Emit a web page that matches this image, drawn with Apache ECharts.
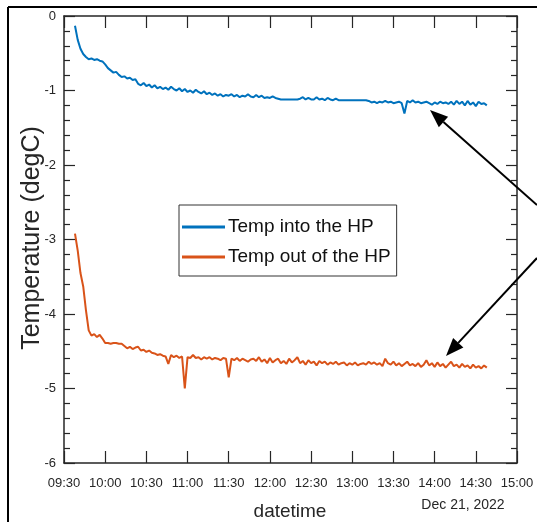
<!DOCTYPE html>
<html>
<head>
<meta charset="utf-8">
<script src="https://cdn.jsdelivr.net/npm/echarts@6/dist/echarts.min.js"></script>
<style>
html, body { margin: 0; padding: 0; background: #fff; }
#chart { width: 537px; height: 522px; }
</style>
</head>
<body>
<div id="chart"></div>
<script>
// time is in minutes after midnight (Dec 21, 2022), samples every 2 min from 09:38
const startMin = 578;
const stepMin = 2;

const tempIn = [
    -0.13, -0.32, -0.44, -0.51, -0.55, -0.58, -0.57, -0.59, -0.58, -0.60,
    -0.61, -0.65, -0.70, -0.73, -0.76, -0.75, -0.79, -0.82, -0.81, -0.84,
    -0.83, -0.86, -0.85, -0.91, -0.93, -0.90, -0.94, -0.92, -0.96, -0.93,
    -0.97, -0.95, -0.98, -0.96, -0.99, -0.95, -0.98, -1.00, -0.97, -1.01,
    -0.98, -1.02, -1.00, -1.03, -0.99, -1.02, -1.04, -1.01, -1.05, -1.03,
    -1.06, -1.04, -1.07, -1.05, -1.08, -1.06, -1.07, -1.05, -1.08, -1.06,
    -1.09, -1.07, -1.08, -1.05, -1.08, -1.09, -1.06, -1.09, -1.07, -1.10,
    -1.09, -1.10, -1.08, -1.10, -1.11, -1.12, -1.12, -1.12, -1.12, -1.12,
    -1.12, -1.12, -1.11, -1.09, -1.12, -1.10, -1.12, -1.12, -1.09, -1.12,
    -1.11, -1.13, -1.10, -1.12, -1.13, -1.11, -1.13, -1.13, -1.13, -1.13,
    -1.13, -1.13, -1.13, -1.13, -1.13, -1.13, -1.13, -1.14, -1.16, -1.15,
    -1.17, -1.15, -1.16, -1.14, -1.16, -1.15, -1.17, -1.16, -1.15, -1.17,
    -1.31, -1.14, -1.16, -1.13, -1.16, -1.15, -1.17, -1.16, -1.15, -1.17,
    -1.19, -1.16, -1.18, -1.15, -1.17, -1.16, -1.18, -1.15, -1.19, -1.14,
    -1.18, -1.15, -1.20, -1.14, -1.19, -1.16, -1.21, -1.15, -1.18, -1.17,
    -1.20
];

const tempOut = [
    -2.92, -3.15, -3.45, -3.63, -3.95, -4.22, -4.29, -4.27, -4.31, -4.28,
    -4.33, -4.39, -4.39, -4.40, -4.39, -4.39, -4.40, -4.40, -4.43, -4.46,
    -4.44, -4.47, -4.45, -4.44, -4.49, -4.48, -4.51, -4.49, -4.52, -4.53,
    -4.55, -4.54, -4.56, -4.57, -4.67, -4.55, -4.58, -4.56, -4.59, -4.57,
    -5.00, -4.58, -4.59, -4.55, -4.59, -4.58, -4.61, -4.58, -4.60, -4.58,
    -4.61, -4.59, -4.60, -4.62, -4.59, -4.60, -4.85, -4.60, -4.62, -4.59,
    -4.63, -4.60, -4.62, -4.64, -4.61, -4.60, -4.63, -4.58, -4.64, -4.61,
    -4.66, -4.59, -4.65, -4.62, -4.60, -4.66, -4.63, -4.67, -4.60, -4.65,
    -4.62, -4.58, -4.66, -4.63, -4.68, -4.62, -4.66, -4.64, -4.69, -4.63,
    -4.66, -4.64, -4.68, -4.65, -4.67, -4.64, -4.68, -4.66, -4.65, -4.69,
    -4.66, -4.68, -4.65, -4.69, -4.67, -4.66, -4.68, -4.64, -4.67, -4.65,
    -4.68, -4.66, -4.70, -4.60, -4.66, -4.68, -4.64, -4.69, -4.66, -4.70,
    -4.67, -4.64, -4.69, -4.67, -4.70, -4.66, -4.71, -4.68, -4.62, -4.69,
    -4.66, -4.71, -4.65, -4.70, -4.67, -4.72, -4.68, -4.64, -4.70, -4.68,
    -4.72, -4.67, -4.71, -4.69, -4.73, -4.68, -4.72, -4.70, -4.73, -4.69,
    -4.72
];

const xMin = 570, xMax = 900, xStep = 30;   // 09:30 .. 15:00
const yMin = -6, yMax = 0, yStep = 1;

const seriesNames = ['Temp into the HP', 'Temp out of the HP'];
const colors = ['#0072BD', '#D95319'];

const font = 'Liberation Sans, Arial, sans-serif';
const ink = '#262626';

function toPoints(vals) {
    return vals.map((v, i) => [startMin + i * stepMin, v]);
}

function hhmm(v) {
    let h = Math.floor(v / 60), m = v % 60;
    return (h < 10 ? '0' : '') + h + ':' + (m < 10 ? '0' : '') + m;
}

// annotation arrow: shaft + filled head
function arrow(x1, y1, x2, y2) {
    let dx = x2 - x1, dy = y2 - y1;
    let len = Math.sqrt(dx * dx + dy * dy);
    let ux = dx / len, uy = dy / len;
    let L = 18, w = 7;
    let bx = x2 - ux * L, by = y2 - uy * L;
    return [
        { type: 'line', shape: { x1: x1, y1: y1, x2: bx, y2: by }, style: { stroke: '#000', lineWidth: 2 }, z: 100 },
        { type: 'polygon', shape: { points: [[x2, y2], [bx - uy * w, by + ux * w], [bx + uy * w, by - ux * w]] }, style: { fill: '#000' }, z: 100 }
    ];
}

const xAxisBase = {
    type: 'value', min: xMin, max: xMax, interval: xStep,
    axisLine: { show: true, onZero: false, lineStyle: { color: ink, width: 1.5 } },
    axisTick: { show: true, inside: true, length: 12, lineStyle: { color: ink, width: 1.2 } },
    splitLine: { show: false }
};
const yAxisBase = {
    type: 'value', min: yMin, max: yMax, interval: yStep,
    axisLine: { show: true, onZero: false, lineStyle: { color: ink, width: 1.5 } },
    axisTick: { show: true, inside: true, length: 11, lineStyle: { color: ink, width: 1.2 } },
    minorTick: { show: true, splitNumber: 5, length: 6, lineStyle: { color: ink, width: 1.2 } },
    splitLine: { show: false }
};

let myChart = echarts.init(document.getElementById('chart'));
let option = {
    animation: false,
    backgroundColor: '#fff',
    grid: { left: 64, top: 16, right: 20, bottom: 59 },
    legend: {
        data: seriesNames,
        orient: 'vertical',
        left: 179,
        top: 205,
        padding: [12, 6, 9, 3],
        itemGap: 10,
        itemWidth: 43,
        itemHeight: 3,
        icon: 'rect',
        borderColor: '#333',
        borderWidth: 1,
        backgroundColor: '#fff',
        textStyle: { fontFamily: font, fontSize: 19, lineHeight: 20, color: '#111', padding: [0, 0, 0, -2] }
    },
    xAxis: [
        Object.assign({}, xAxisBase, {
            position: 'bottom',
            axisLabel: { formatter: hhmm, fontFamily: font, fontSize: 13, color: ink, margin: 14 }
        }),
        Object.assign({}, xAxisBase, { position: 'top', axisLabel: { show: false } })
    ],
    yAxis: [
        Object.assign({}, yAxisBase, {
            position: 'left',
            axisLabel: { fontFamily: font, fontSize: 13, color: ink, margin: 8 }
        }),
        Object.assign({}, yAxisBase, { position: 'right', axisLabel: { show: false } })
    ],
    series: [
        {
            name: seriesNames[0], type: 'line', data: toPoints(tempIn),
            showSymbol: false, symbol: 'none', color: colors[0],
            lineStyle: { width: 2, color: colors[0] }
        },
        {
            name: seriesNames[1], type: 'line', data: toPoints(tempOut),
            showSymbol: false, symbol: 'none', color: colors[1],
            lineStyle: { width: 2, color: colors[1] }
        }
    ],
    graphic: [
        // outer frame of the figure
        { type: 'line', shape: { x1: 8, y1: 7, x2: 537, y2: 7 }, style: { stroke: '#000', lineWidth: 2 } },
        { type: 'line', shape: { x1: 8, y1: 7, x2: 8, y2: 522 }, style: { stroke: '#000', lineWidth: 2 } },
        {
            type: 'text', x: 32, y: 238, rotation: Math.PI / 2,
            style: { text: 'Temperature (degC)', fontFamily: font, fontSize: 25, fill: ink, textAlign: 'center', textVerticalAlign: 'middle' }
        },
        {
            type: 'text', x: 290, y: 512,
            style: { text: 'datetime', fontFamily: font, fontSize: 19, fill: ink, textAlign: 'center', textVerticalAlign: 'middle' }
        },
        {
            type: 'text', x: 463, y: 505,
            style: { text: 'Dec 21, 2022', fontFamily: font, fontSize: 14, fill: ink, textAlign: 'center', textVerticalAlign: 'middle' }
        }
    ].concat(arrow(537, 205, 430, 110), arrow(537, 258, 446, 356))
};
myChart.setOption(option);
</script>
</body>
</html>
